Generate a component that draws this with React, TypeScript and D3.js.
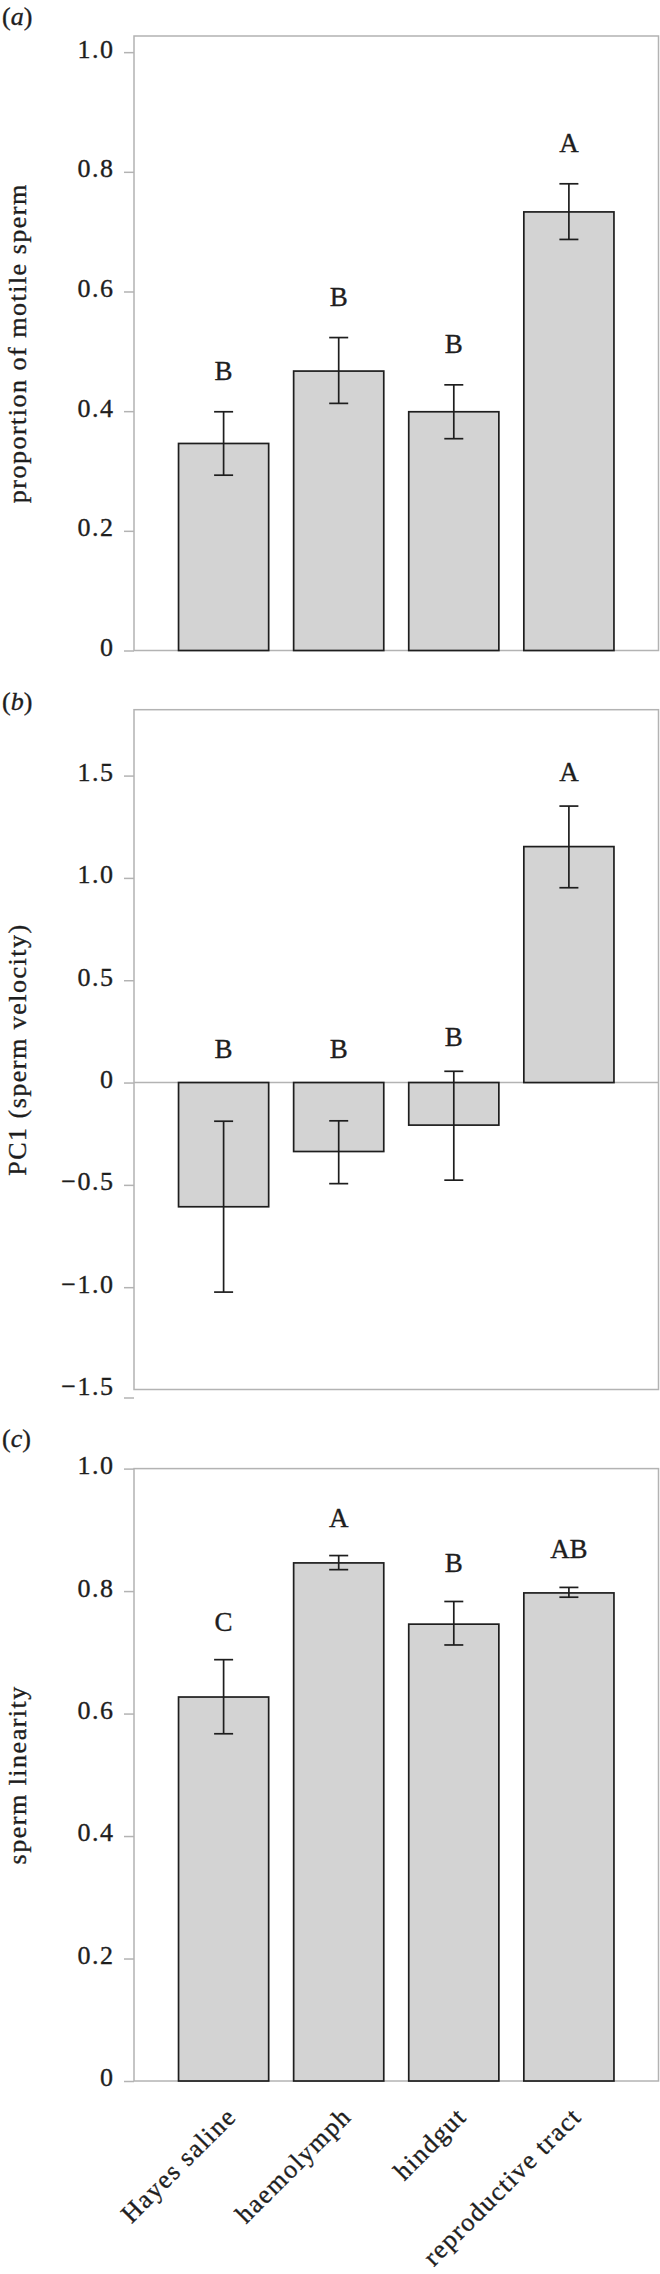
import React, { useEffect, useRef } from 'react';
import * as d3 from 'd3';

const categories = ['Hayes saline', 'haemolymph', 'hindgut', 'reproductive tract'];

const motileMean = [0.346, 0.467, 0.399, 0.733];
const motileLo = [0.293, 0.413, 0.354, 0.687];
const motileHi = [0.399, 0.523, 0.444, 0.78];
const motileLetters = ['B', 'B', 'B', 'A'];
const motileTicks = [0, 0.2, 0.4, 0.6, 0.8, 1.0];

const velocityMean = [-0.607, -0.337, -0.208, 1.153];
const velocityLo = [-1.024, -0.494, -0.477, 0.952];
const velocityHi = [-0.189, -0.187, 0.055, 1.351];
const velocityLetters = ['B', 'B', 'B', 'A'];
const velocityTicks = [-1.5, -1.0, -0.5, 0, 0.5, 1.0, 1.5];

const linearityMean = [0.627, 0.846, 0.746, 0.797];
const linearityLo = [0.567, 0.835, 0.712, 0.79];
const linearityHi = [0.688, 0.858, 0.783, 0.806];
const linearityLetters = ['C', 'A', 'B', 'AB'];
const linearityTicks = [0, 0.2, 0.4, 0.6, 0.8, 1.0];

const W = 660;
const H = 2274;
const FONT = '"Liberation Serif", "Times New Roman", serif';
const AXIS = '#b3b3b3';
const INK = '#1e1e1e';
const BAR = '#d3d3d3';

const fmtTick = (v: number) => (v === 0 ? '0' : (v < 0 ? '\u2212' : '') + d3.format('.1f')(Math.abs(v)));

const panels = [
  {
    tag: 'a', title: 'proportion of motile sperm',
    mean: motileMean, lo: motileLo, hi: motileHi, letters: motileLetters, ticks: motileTicks,
    domain: [0, 1.027], range: [650.5, 36], labelY: 25, letterGap: 32,
  },
  {
    tag: 'b', title: 'PC1 (sperm velocity)',
    mean: velocityMean, lo: velocityLo, hi: velocityHi, letters: velocityLetters, ticks: velocityTicks,
    domain: [-1.5, 1.822], range: [1389.5, 709.7], labelY: 710, letterGap: 25,
  },
  {
    tag: 'c', title: 'sperm linearity',
    mean: linearityMean, lo: linearityLo, hi: linearityHi, letters: linearityLetters, ticks: linearityTicks,
    domain: [0, 1], range: [2081, 1468.6], labelY: 1447, letterGap: 29,
  },
];

// a hairline outline makes the serif glyphs read as heavy as in the scan
const ink = (sel: any) =>
  sel.attr('fill', INK).attr('stroke', INK).attr('stroke-width', 0.35).attr('font-family', FONT);

export default function App() {
  const ref = useRef<SVGSVGElement>(null);

  useEffect(() => {
    const svg = d3.select(ref.current);
    svg.selectAll('*').remove();

    const x = d3.scaleBand<string>().domain(categories).range([134, 658.5])
      .paddingInner(0.217).paddingOuter(0.387);

    panels.forEach((p, pi) => {
      const y = d3.scaleLinear().domain(p.domain).range(p.range);
      const g = svg.append('g');
      const [x0, x1] = x.range();
      const yTop = y.range()[1];
      const yBot = y.range()[0];

      // frame
      g.append('rect')
        .attr('x', x0).attr('y', yTop)
        .attr('width', x1 - x0).attr('height', yBot - yTop)
        .attr('fill', 'none').attr('stroke', AXIS).attr('stroke-width', 1.5);

      // zero line
      if (p.domain[0] < 0) {
        g.append('line')
          .attr('x1', x0).attr('x2', x1)
          .attr('y1', y(0)).attr('y2', y(0))
          .attr('stroke', AXIS).attr('stroke-width', 1.5);
      }

      const ax = g.append('g').attr('transform', `translate(${x0},0)`)
        .call(d3.axisLeft(y).tickValues(p.ticks).tickSize(10).tickPadding(9.5).tickFormat((d) => fmtTick(+d)));
      ax.select('.domain').remove();
      ax.selectAll('line').attr('stroke', AXIS).attr('stroke-width', 1.5);
      ink(ax.selectAll('text'))
        .attr('font-size', 26)
        .attr('letter-spacing', 1.5).attr('dy', '0.19em');
      if (p.tag === 'b') {
        ax.selectAll<SVGGElement, number>('.tick').filter((d) => d === p.domain[0])
          .select('line').attr('transform', 'translate(0,8)');
      }

      // bars
      g.selectAll('rect.bar')
        .data(p.mean)
        .join('rect')
        .attr('class', 'bar')
        .attr('x', (_, i) => x(categories[i]) as number)
        .attr('width', x.bandwidth())
        .attr('y', (d) => y(Math.max(0, d)))
        .attr('height', (d) => Math.abs(y(d) - y(0)))
        .attr('fill', BAR).attr('stroke', INK).attr('stroke-width', 1.7);

      // error bars
      const cap = 9.5;
      p.mean.forEach((_, i) => {
        const cx = (x(categories[i]) as number) + x.bandwidth() / 2;
        const eb = g.append('g').attr('stroke', INK).attr('stroke-width', 1.7);
        eb.append('line').attr('x1', cx).attr('x2', cx).attr('y1', y(p.lo[i])).attr('y2', y(p.hi[i]));
        eb.append('line').attr('x1', cx - cap).attr('x2', cx + cap).attr('y1', y(p.lo[i])).attr('y2', y(p.lo[i]));
        eb.append('line').attr('x1', cx - cap).attr('x2', cx + cap).attr('y1', y(p.hi[i])).attr('y2', y(p.hi[i]));

        ink(g.append('text'))
          .attr('x', cx)
          .attr('y', y(Math.max(0, p.hi[i])) - p.letterGap)
          .attr('text-anchor', 'middle')
          .attr('font-size', 27)
          .text(p.letters[i]);
      });

      // y title
      ink(g.append('text'))
        .attr('transform', `translate(26,${(yTop + yBot) / 2}) rotate(-90)`)
        .attr('text-anchor', 'middle')
        .attr('font-size', 26)
        .attr('letter-spacing', 1.5)
        .text(p.title);

      // panel tag
      const tag = ink(g.append('text'))
        .attr('x', 2).attr('y', p.labelY)
        .attr('font-size', 26);
      tag.append('tspan').text('(');
      tag.append('tspan').attr('font-style', 'italic').text(p.tag);
      tag.append('tspan').text(')');

      // category labels on the last panel
      if (pi === panels.length - 1) {
        categories.forEach((c) => {
          const cx = (x(c) as number) + x.bandwidth() / 2;
          ink(g.append('text'))
            .attr('transform', `translate(${cx + 14},${yBot + 37}) rotate(-45)`)
            .attr('text-anchor', 'end')
            .attr('font-size', 26)
            .attr('letter-spacing', 1.5)
            .text(c);
        });
      }
    });
  }, []);

  return (
    <svg
      ref={ref}
      width={W}
      height={H}
      style={{ position: 'absolute', left: 0, top: 0, background: '#fff' }}
    />
  );
}
